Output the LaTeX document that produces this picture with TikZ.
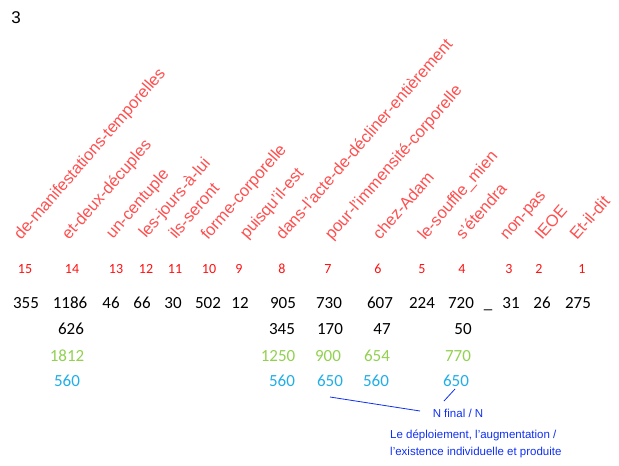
\documentclass[tikz,border=0pt]{standalone}
\usepackage{fontspec}
\setmainfont{Liberation Sans}
\newfontfamily\numfont{Carlito}
\definecolor{lblred}{HTML}{FF4F4F}
\definecolor{idxred}{HTML}{FF1010}
\definecolor{numgreen}{HTML}{92D050}
\definecolor{numblue}{HTML}{20AEE8}
\definecolor{annblue}{HTML}{1030F0}
\begin{document}
\begin{tikzpicture}[x=1pt,y=-1pt,
  wordlbl/.style={rotate=49,anchor=base west,inner sep=0pt,text=lblred,font=\fontsize{16.5}{18}\selectfont},
  idx/.style={inner sep=0pt,text=idxred,font=\numfont\fontsize{14}{16}\selectfont},
  numblack/.style={inner sep=0pt,text=black,font=\numfont\fontsize{17}{19}\selectfont},
  numgr/.style={numblack,text=numgreen},
  numbl/.style={numblack,text=numblue},
  annot/.style={inner sep=0pt,text=annblue,font=\fontsize{11.5}{13}\selectfont},
  annline/.style={draw=annblue,line width=0.8pt}]
\useasboundingbox (0,0) rectangle (619,466);
\node[inner sep=0pt,font=\fontsize{17}{19}\selectfont] (title) at (16,18) {3};
% rotated words
\node[wordlbl] (w15) at (21,241) {de-manifestations-temporelles};
\node[wordlbl] (w14) at (69,241) {et-deux-décuples};
\node[wordlbl] (w13) at (113,240) {un-centuple};
\node[wordlbl] (w12) at (146,239) {les-jours-à-lui};
\node[wordlbl] (w11) at (176,240) {ils-seront};
\node[wordlbl] (w10) at (208,241) {forme-corporelle};
\node[wordlbl] (w9) at (247,240) {puisqu'il-est};
\node[wordlbl] (w8) at (283,241) {dans-l'acte-de-décliner-entièrement};
\node[wordlbl] (w7) at (332,241) {pour-l'immensité-corporelle};
\node[wordlbl] (w6) at (380,241) {chez-Adam};
\node[wordlbl] (w5) at (425,241) {le-souffle\_mien};
\node[wordlbl] (w4) at (463,241) {s'étendra};
\node[wordlbl] (w3) at (507,241) {non-pas};
\node[wordlbl] (w2) at (542,241) {IEOE};
\node[wordlbl] (w1) at (577,241) {Et-il-dit};
% indices
\node[idx] (i15) at (25,269) {15};
\node[idx] (i14) at (72,269) {14};
\node[idx] (i13) at (116,269) {13};
\node[idx] (i12) at (146,269) {12};
\node[idx] (i11) at (175,269) {11};
\node[idx] (i10) at (209,269) {10};
\node[idx] (i9) at (239,269) {9};
\node[idx] (i8) at (282,269) {8};
\node[idx] (i7) at (328,269) {7};
\node[idx] (i6) at (378,269) {6};
\node[idx] (i5) at (422,269) {5};
\node[idx] (i4) at (462,269) {4};
\node[idx] (i3) at (509,269) {3};
\node[idx] (i2) at (539,269) {2};
\node[idx] (i1) at (582,269) {1};
% row 1
\node[numblack] (a15) at (26,303) {355};
\node[numblack] (a14) at (70,303) {1186};
\node[numblack] (a13) at (111,303) {46};
\node[numblack] (a12) at (142,303) {66};
\node[numblack] (a11) at (173,303) {30};
\node[numblack] (a10) at (208,303) {502};
\node[numblack] (a9) at (240,303) {12};
\node[numblack] (a8) at (283,303) {905};
\node[numblack] (a7) at (329,303) {730};
\node[numblack] (a6) at (380,303) {607};
\node[numblack] (a5) at (422,303) {224};
\node[numblack] (a4) at (461,303) {720};
\node[numblack] (a0) at (488,310) {\_};
\node[numblack] (a3) at (511,303) {31};
\node[numblack] (a2) at (542,303) {26};
\node[numblack] (a1) at (578,303) {275};
% row 2
\node[numblack] (b14) at (71,329) {626};
\node[numblack] (b8) at (282,329) {345};
\node[numblack] (b7) at (330,329) {170};
\node[numblack] (b6) at (382,329) {47};
\node[numblack] (b4) at (463,329) {50};
% row 3
\node[numgr] (c14) at (67,356) {1812};
\node[numgr] (c8) at (278,356) {1250};
\node[numgr] (c7) at (328,356) {900};
\node[numgr] (c6) at (377,356) {654};
\node[numgr] (c4) at (458,356) {770};
% row 4
\node[numbl] (d14) at (67,381) {560};
\node[numbl] (d8) at (282,381) {560};
\node[numbl] (d7) at (330,381) {650};
\node[numbl] (d6) at (376,381) {560};
\node[numbl] (d4) at (456,381) {650};
% annotations
\node[annot] (nfinal) at (458,413) {N final / N};
\node[annot,anchor=west] (ann1) at (390,435) {Le déploiement, l’augmentation /};
\node[annot,anchor=west] (ann2) at (390,453) {l’existence individuelle et produite};
\coordinate (p1) at (330,397);
\coordinate (p1e) at (420,411);
\coordinate (p2) at (455,389);
\coordinate (p2e) at (444,401);
\draw[annline] (p1) -- (p1e);
\draw[annline] (p2) -- (p2e);
\end{tikzpicture}
\end{document}
